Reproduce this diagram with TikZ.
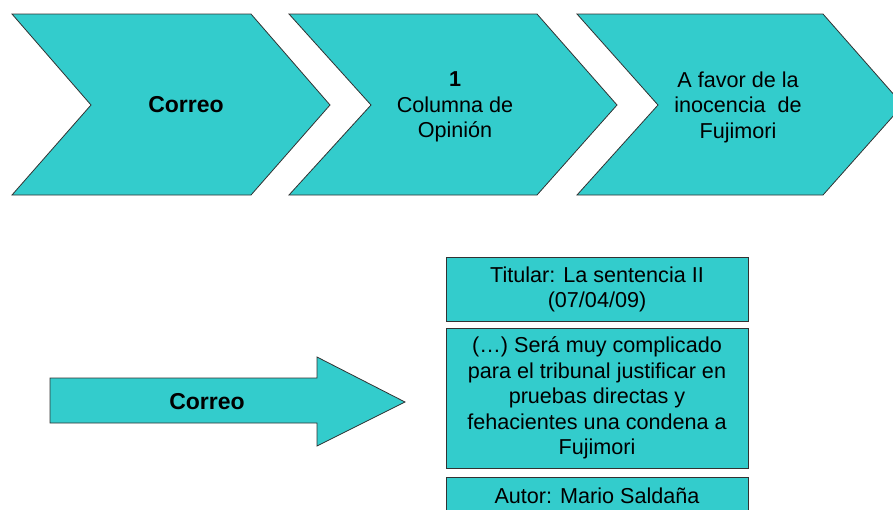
\documentclass[tikz,border=0pt]{standalone}
\usepackage{fontspec}
\setmainfont{Liberation Sans}
\usetikzlibrary{positioning}
\definecolor{turquesa}{RGB}{51,204,204}
\definecolor{borde}{RGB}{50,50,50}

\begin{document}
\begin{tikzpicture}[x=1pt,y=-1pt,
    forma/.style={fill=turquesa, draw=borde, line width=0.8pt},
    texto/.style={align=center, inner sep=0pt, font=\fontsize{21.6}{25.5}\selectfont},
    negrita/.style={texto, font=\fontsize{23}{27}\selectfont\bfseries},
    caja/.style={forma, texto, rectangle, minimum width=302pt, anchor=north}]
	\path[use as bounding box] (0,0) rectangle (893,509);
	\clip (0,0) rectangle (893,509);
	% cadena de arriba
	\draw[forma] (12,14) -- (251,14) -- (330,105) -- (251,195) -- (12,195) -- (91,105) -- cycle;
	\draw[forma] (289,14) -- (537,14) -- (617,105) -- (537,195) -- (289,195) -- (371,105) -- cycle;
	\draw[forma] (577,14) -- (823,14) -- (903,105) -- (823,195) -- (577,195) -- (658,105) -- cycle;
	\node[negrita] (medio) at (186,105) {Correo};
	\node[texto] (genero) at (455,107) {\textbf{1}\\Columna de\\Opinión};
	\node[texto] (postura) at (738,107) {A favor de la\\inocencia\ \ de\\Fujimori};
	% flecha de abajo
	\draw[forma] (50,378) -- (317,378) -- (317,357) -- (405,402) -- (317,446) -- (317,423) -- (50,423) -- cycle;
	\node[negrita] (diario) at (207,402) {Correo};
	\node[caja, minimum height=64pt] (titular) at (597,257) {Titular: La sentencia II\\(07/04/09)};
	\node[caja, minimum height=140pt, below=6pt of titular] (cita)
		{(\dots) Será muy complicado\\para el tribunal justificar en\\pruebas directas y\\fehacientes una condena a\\Fujimori};
	\node[caja, minimum height=38pt, below=8pt of cita] (autor) {Autor: Mario Saldaña};
\end{tikzpicture}
\end{document}
